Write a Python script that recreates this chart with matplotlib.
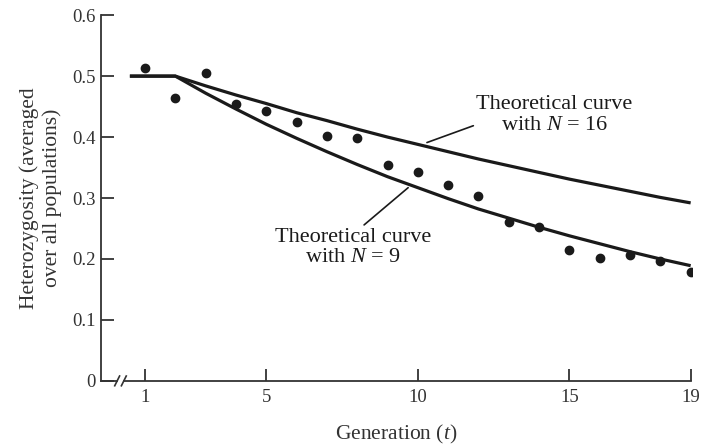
import matplotlib
matplotlib.use("Agg")
import matplotlib.pyplot as plt

plt.rcParams['font.family'] = ['Liberation Serif', 'DejaVu Serif']
plt.rcParams['mathtext.fontset'] = 'custom'
plt.rcParams['mathtext.rm'] = 'Liberation Serif'
plt.rcParams['mathtext.it'] = 'Liberation Serif:italic'

# Observed heterozygosity per generation
generations = list(range(1, 20))
observed = [0.513, 0.464, 0.505, 0.454, 0.442, 0.424, 0.401, 0.398, 0.354, 0.342,
            0.322, 0.303, 0.260, 0.252, 0.214, 0.201, 0.206, 0.196, 0.179]

# Theoretical curves
curve_x = [0.5, 2, 3, 4, 5, 6, 7, 8, 9, 10, 11, 12, 13, 14, 15, 16, 17, 18, 19]
curve_n16 = [0.500, 0.500, 0.484, 0.469, 0.455, 0.440, 0.427, 0.413, 0.400, 0.388,
             0.376, 0.364, 0.353, 0.342, 0.331, 0.321, 0.311, 0.301, 0.292]
curve_n9 = [0.500, 0.500, 0.472, 0.446, 0.421, 0.398, 0.376, 0.355, 0.335, 0.317,
            0.299, 0.282, 0.267, 0.252, 0.238, 0.225, 0.212, 0.200, 0.189]

xticks = [1, 5, 10, 15, 19]
yticks = [0, 0.1, 0.2, 0.3, 0.4, 0.5, 0.6]
ytick_labels = ['0', '0.1', '0.2', '0.3', '0.4', '0.5', '0.6']

ink = '#1a1a1a'
gray = '#333333'

fig = plt.figure(figsize=(7.02, 4.46), dpi=100)
ax = fig.add_axes([0.144, 0.146, 0.842, 0.820])

ax.plot(curve_x, curve_n16, color=ink, lw=2.3, solid_capstyle='butt')
ax.plot(curve_x, curve_n9, color=ink, lw=2.3, solid_capstyle='butt')
ax.plot(generations, observed, 'o', color=ink, ms=6)

ax.set_xlim(-0.45, 19.05)
ax.set_ylim(0, 0.6)
ax.set_xticks(xticks)
ax.set_xticklabels([str(t) for t in xticks])
ax.set_yticks(yticks)
ax.set_yticklabels(ytick_labels)

for s in ['top', 'right', 'bottom']:
    ax.spines[s].set_visible(False)
ax.spines['left'].set_color(gray)
ax.spines['left'].set_linewidth(1.3)

ax.tick_params(axis='both', direction='in', length=9, width=1.3, colors=gray,
               labelsize=13.5, pad=4)
ax.tick_params(axis='x', pad=6)

# broken x axis
ax.plot([-0.45, 0.06], [0, 0], color=gray, lw=1.3, clip_on=False)
ax.plot([0.32, 19.0], [0, 0], color=gray, lw=1.3, clip_on=False)
ax.plot([0.0, 0.16], [-0.008, 0.008], color=gray, lw=1.2, clip_on=False)
ax.plot([0.22, 0.38], [-0.008, 0.008], color=gray, lw=1.2, clip_on=False)

ax.set_xlabel('Generation ($t$)', fontsize=15.5, color=gray)
ax.xaxis.set_label_coords(0.50, -0.115)
ax.set_ylabel('Heterozygosity (averaged\nover all populations)', fontsize=15.5,
              color=gray, linespacing=1.2)
ax.yaxis.set_label_coords(-0.066, 0.5)

ax.annotate('Theoretical curve\nwith $N$ = 16', xy=(10.3, 0.391), xytext=(14.5, 0.436),
            ha='center', va='center', fontsize=16, color=ink, linespacing=1.1,
            arrowprops=dict(arrowstyle='-', color=ink, lw=1.2,
                            shrinkA=0, shrinkB=0, relpos=(0.03, 0.3)))
ax.annotate('Theoretical curve\nwith $N$ = 9', xy=(9.68, 0.317), xytext=(7.86, 0.219),
            ha='center', va='center', fontsize=16, color=ink, linespacing=1.1,
            arrowprops=dict(arrowstyle='-', color=ink, lw=1.2,
                            shrinkA=0, shrinkB=0, relpos=(0.55, 1.0)))

fig.savefig('out.png', dpi=100)
